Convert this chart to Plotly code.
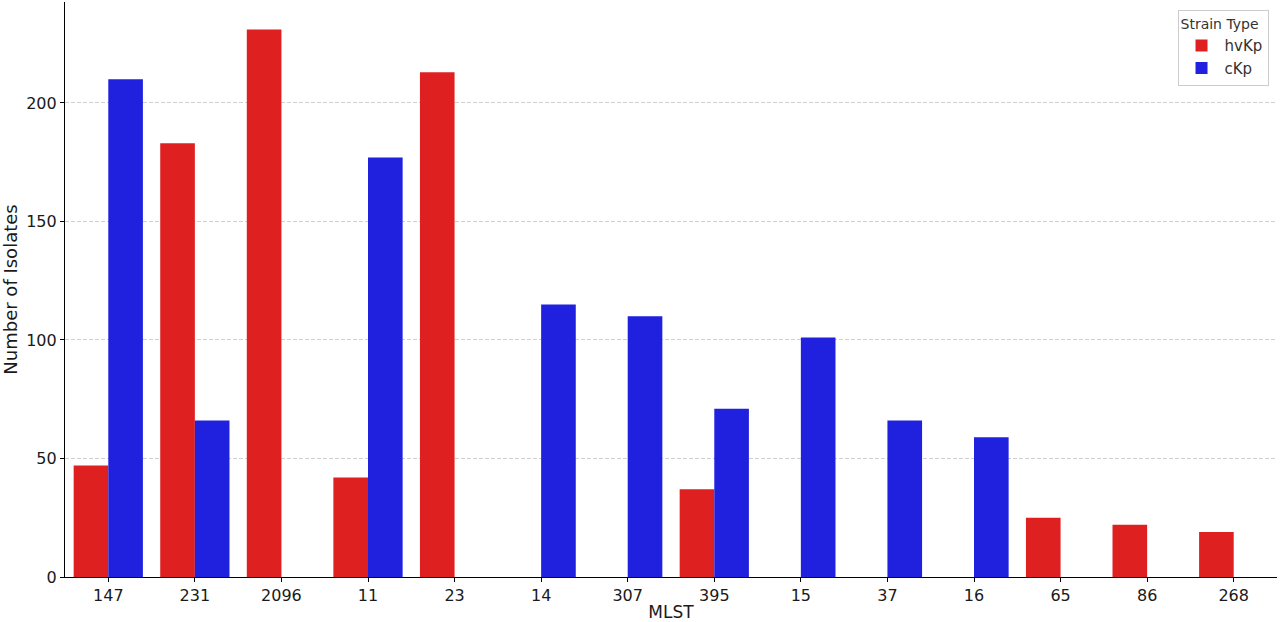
import plotly.graph_objects as go

# MLST counts per strain type
mlst = ['147', '231', '2096', '11', '23', '14', '307', '395', '15', '37', '16', '65', '86', '268']
hvkp = [47, 183, 231, 42, 213, 0, 0, 37, 0, 0, 0, 25, 22, 19]
ckp = [210, 66, 0, 177, 0, 115, 110, 71, 101, 66, 59, 0, 0, 0]

font = 'DejaVu Sans'

fig = go.Figure()
fig.add_trace(go.Bar(x=mlst, y=hvkp, name='hvKp', marker=dict(color='rgb(223,32,32)', line=dict(width=0))))
fig.add_trace(go.Bar(x=mlst, y=ckp, name='cKp', marker=dict(color='rgb(32,32,223)', line=dict(width=0))))

fig.update_layout(
    width=1280, height=622,
    barmode='group', bargap=0.2, bargroupgap=0,
    plot_bgcolor='white', paper_bgcolor='white',
    margin=dict(l=65, r=3, t=2, b=45, autoexpand=False),
    font=dict(family=font, size=15, color='#1a1a1a'),
    legend=dict(
        title=dict(text='Strain Type', font=dict(size=14, color='#333')),
        x=0.993, y=0.986, xanchor='right', yanchor='top',
        bordercolor='#cccccc', borderwidth=1, bgcolor='rgba(255,255,255,0.8)',
        font=dict(size=15, color='#333'),
        tracegroupgap=2, itemwidth=36,
    ),
)
fig.update_xaxes(
    type='category', range=[-0.5, 13.5], automargin=False,
    showline=True, linecolor='black', linewidth=1.2,
    ticks='outside', ticklen=4, tickcolor='black',
    tickfont=dict(size=16),
    title=dict(text='MLST', font=dict(size=17), standoff=2),
    showgrid=False,
)
fig.update_yaxes(
    range=[0, 242.6], automargin=False,
    showline=True, linecolor='black', linewidth=1.2,
    ticks='outside', ticklen=4, tickcolor='black',
    tickvals=[0, 50, 100, 150, 200],
    tickfont=dict(size=16),
    title=dict(text='Number of Isolates', font=dict(size=18), standoff=6),
    showgrid=True, gridcolor='#d0d0d0', griddash='4px,2px', gridwidth=0.8,
    zeroline=False,
)

# drop the page's default body margin so the figure sits at the window corner
fig.write_html('out.html', config={'displayModeBar': False},
               post_script="document.body.style.margin='0';document.body.style.overflow='hidden';")
